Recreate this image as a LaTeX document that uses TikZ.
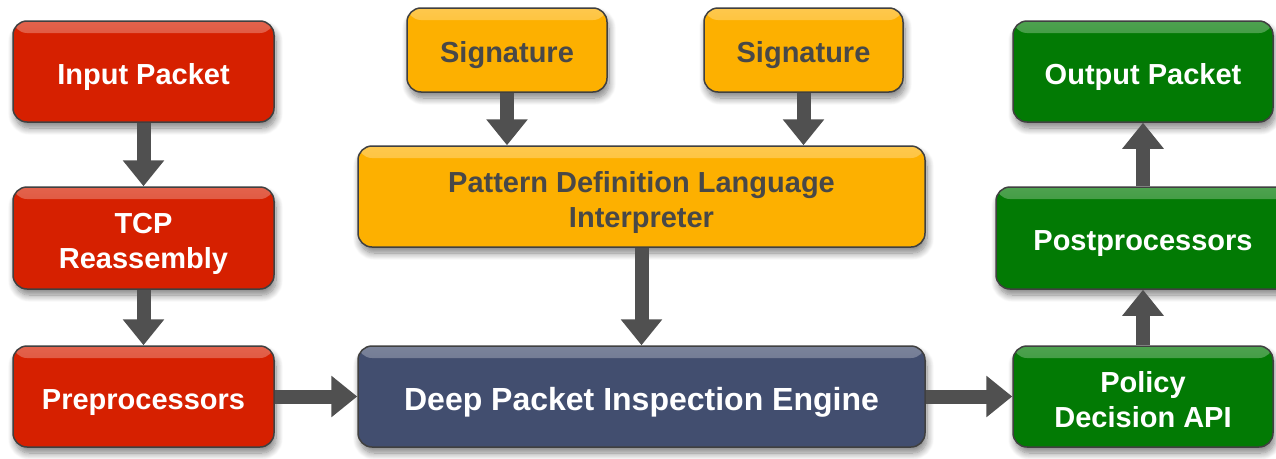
\documentclass[tikz,border=0pt]{standalone}
\usepackage{fontspec}
\setmainfont{Liberation Sans}
\usetikzlibrary{arrows.meta,shadows.blur}
\definecolor{redbox}{RGB}{214,32,0}
\definecolor{orangebox}{RGB}{253,176,0}
\definecolor{bluebox}{RGB}{66,78,111}
\definecolor{greenbox}{RGB}{2,122,4}
\definecolor{edge}{RGB}{64,64,64}
\definecolor{arrowgray}{RGB}{80,80,80}
\definecolor{darktext}{RGB}{72,72,72}
% two centred lines, set slightly below the middle of the box
\newcommand{\stackedlabel}[2]{\raisebox{-6pt}[\height][\depth]{%
  \begin{tabular}{@{}c@{}}#1\\#2\end{tabular}}}
\tikzset{
  box/.style={draw=edge, line width=1.5pt, rounded corners=14pt, fill=#1,
    inner sep=0pt, align=center, font=\bfseries\fontsize{29}{35}\selectfont,
    text=white, execute at begin node={\rule{0pt}{1.08em}},
    blur shadow={shadow xshift=2pt, shadow yshift=-6pt, shadow blur steps=10,
      shadow blur radius=7pt, shadow opacity=50},
    path picture={\shade[top color=#1!70!white, bottom color=#1]
      (path picture bounding box.north west) rectangle
      ([yshift=-12pt]path picture bounding box.north east);}},
  flow/.style={draw=arrowgray, line width=14pt,
    -{Triangle[width=40pt,length=26pt]}}
}
\begin{document}
\begin{tikzpicture}[x=1pt,y=-1pt]
\useasboundingbox (0,0) rectangle (1276,458);
\clip (0,0) rectangle (1276,458);
% left column: packet intake
\node[box=redbox, minimum width=261pt, minimum height=101pt] (in) at (143.5,71.5) {Input Packet};
\node[box=redbox, minimum width=261pt, minimum height=102pt] (tcp) at (143.5,238) {\stackedlabel{TCP}{Reassembly}};
\node[box=redbox, minimum width=261pt, minimum height=101pt] (pre) at (143.5,396.5) {Preprocessors};
% middle column: signatures and matching
\node[box=orangebox, text=darktext, minimum width=200pt, minimum height=84pt] (sig1) at (507,50) {Signature};
\node[box=orangebox, text=darktext, minimum width=199pt, minimum height=84pt] (sig2) at (803.5,50) {Signature};
\node[box=orangebox, text=darktext, minimum width=567pt, minimum height=101pt] (pdl) at (641.5,196.5) {\stackedlabel{Pattern Definition Language}{Interpreter}};
\node[box=bluebox, font=\bfseries\fontsize{32}{38}\selectfont, minimum width=567pt, minimum height=101pt] (dpi) at (641.5,396.5) {Deep Packet Inspection Engine};
% right column: decision and output
\node[box=greenbox, minimum width=260pt, minimum height=101pt] (out) at (1143,71.5) {Output Packet};
\node[box=greenbox, minimum width=294pt, minimum height=102pt] (post) at (1143,238) {Postprocessors};
\node[box=greenbox, minimum width=260pt, minimum height=101pt] (pol) at (1143,396.5) {\stackedlabel{Policy}{Decision API}};
% connectors
\draw[flow] (in.south) -- (tcp.north);
\draw[flow] (tcp.south) -- (pre.north);
\draw[flow] (pre.east) -- (dpi.west);
\draw[flow] (sig1.south) -- (sig1.south |- pdl.north);
\draw[flow] (sig2.south) -- (sig2.south |- pdl.north);
\draw[flow] (pdl.south) -- (dpi.north);
\draw[flow] (dpi.east) -- (pol.west);
\draw[flow] (pol.north) -- (post.south);
\draw[flow] (post.north) -- (out.south);
\end{tikzpicture}
\end{document}
